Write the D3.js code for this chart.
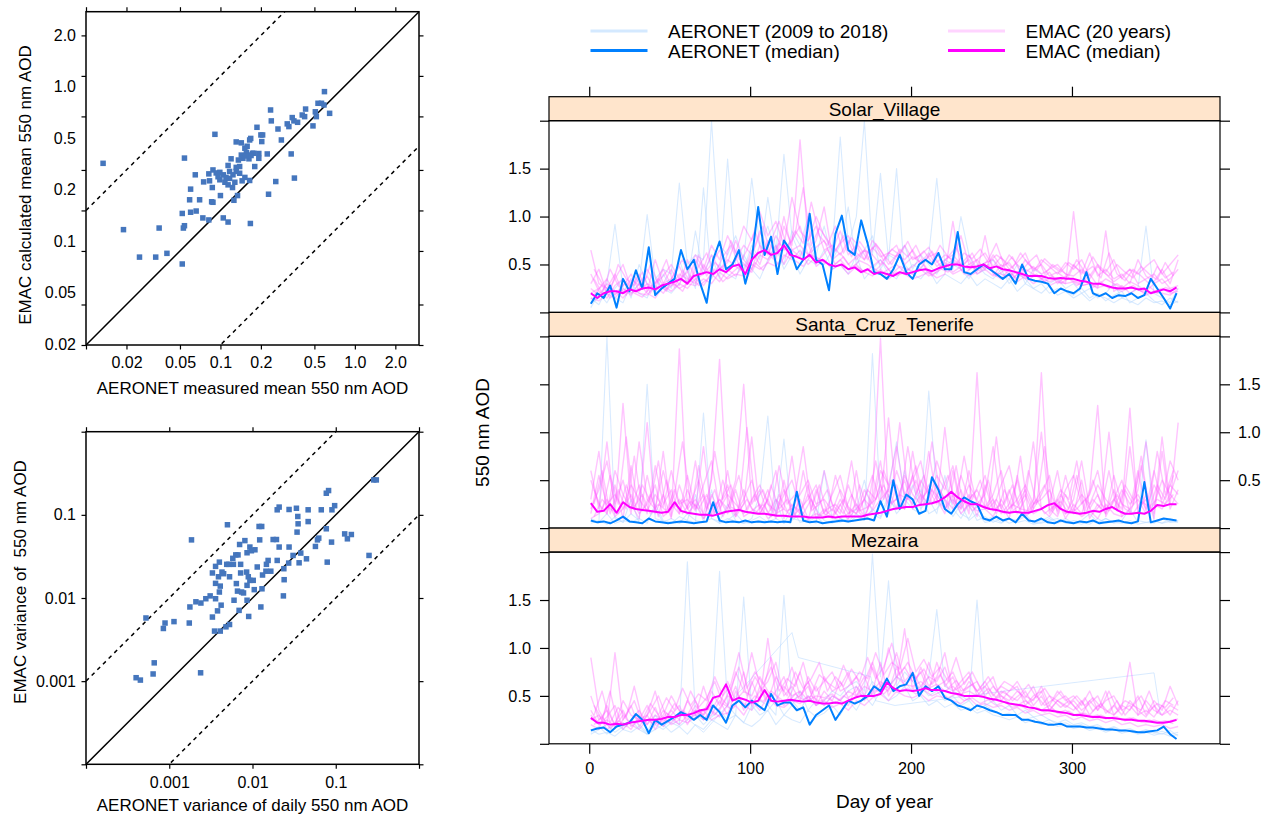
<!DOCTYPE html>
<html><head><meta charset="utf-8">
<script src="https://cdn.jsdelivr.net/npm/d3@7"></script>
<style>
body{margin:0;background:#fff}
svg text{font-family:"Liberation Sans",Arial,Helvetica,sans-serif;fill:#000}
</style></head>
<body><svg id="c" width="1262" height="815"></svg>
<script>
// ---------- Scatter data ----------
const meanPoints = [[0.0134,0.224],[0.019,0.072],[0.025,0.045],[0.033,0.045],[0.035,0.074],[0.040,0.048],[0.052,0.040],[0.052,0.095],[0.053,0.074],[0.054,0.077],[0.054,0.245],[0.059,0.120],[0.060,0.144],[0.060,0.097],[0.066,0.099],[0.065,0.184],[0.070,0.120],[0.074,0.088],[0.075,0.163],[0.082,0.187],[0.082,0.085],[0.083,0.166],[0.087,0.148],[0.086,0.116],[0.088,0.115],[0.091,0.368],[0.088,0.200],[0.093,0.190],[0.096,0.178],[0.099,0.169],[0.100,0.129],[0.105,0.184],[0.108,0.162],[0.105,0.088],[0.114,0.082],[0.114,0.216],[0.117,0.195],[0.120,0.242],[0.124,0.184],[0.114,0.155],[0.128,0.162],[0.131,0.209],[0.131,0.323],[0.134,0.129],[0.126,0.119],[0.139,0.189],[0.143,0.318],[0.143,0.258],[0.147,0.244],[0.152,0.290],[0.156,0.270],[0.160,0.258],[0.165,0.334],[0.168,0.343],[0.173,0.266],[0.145,0.166],[0.152,0.176],[0.165,0.167],[0.163,0.242],[0.180,0.212],[0.177,0.266],[0.187,0.415],[0.193,0.265],[0.193,0.244],[0.200,0.364],[0.206,0.364],[0.203,0.325],[0.223,0.263],[0.236,0.558],[0.239,0.463],[0.258,0.164],[0.228,0.132],[0.268,0.403],[0.284,0.334],[0.314,0.440],[0.323,0.420],[0.336,0.263],[0.342,0.490],[0.352,0.463],[0.375,0.452],[0.355,0.174],[0.406,0.512],[0.423,0.498],[0.430,0.567],[0.488,0.425],[0.508,0.541],[0.517,0.498],[0.532,0.626],[0.565,0.626],[0.589,0.608],[0.594,0.764],[0.649,0.527],[0.167,0.080],[0.136,0.237],[0.139,0.212],[0.154,0.254],[0.169,0.256],[0.099,0.192],[0.117,0.173],[0.131,0.195],[0.110,0.176],[0.158,0.300],[0.123,0.148]];

const varPoints = [[0.0004,0.0011],[0.00045,0.00103],[0.000525,0.00575],[0.00064,0.00122],[0.00066,0.00166],[0.00085,0.0043],[0.00089,0.0050],[0.00114,0.0052],[0.00174,0.0050],[0.00177,0.0078],[0.00185,0.050],[0.00209,0.0090],[0.0024,0.0087],[0.00238,0.00126],[0.00275,0.0098],[0.0031,0.0106],[0.0033,0.0059],[0.0033,0.020],[0.0035,0.0040],[0.0036,0.0098],[0.0038,0.0070],[0.0036,0.024],[0.0040,0.027],[0.0039,0.018],[0.0041,0.0040],[0.0042,0.0082],[0.0040,0.0118],[0.0041,0.0139],[0.0045,0.0196],[0.0048,0.0045],[0.0050,0.076],[0.0053,0.018],[0.0049,0.0254],[0.0052,0.0254],[0.0059,0.0254],[0.0058,0.030],[0.0063,0.033],[0.0067,0.033],[0.0070,0.044],[0.0081,0.049],[0.0093,0.041],[0.0097,0.037],[0.0107,0.038],[0.0086,0.035],[0.0072,0.0254],[0.0072,0.020],[0.0064,0.0149],[0.0066,0.0121],[0.0078,0.0115],[0.0085,0.0205],[0.0089,0.018],[0.0093,0.0163],[0.0086,0.0142],[0.0102,0.0163],[0.0105,0.0126],[0.0114,0.0236],[0.0122,0.050],[0.0120,0.0725],[0.0129,0.0725],[0.0132,0.0189],[0.0130,0.0129],[0.0145,0.021],[0.0154,0.0283],[0.0147,0.0254],[0.0166,0.021],[0.0177,0.0505],[0.0194,0.0505],[0.0198,0.0283],[0.0209,0.041],[0.0198,0.115],[0.0209,0.124],[0.0238,0.0225],[0.0240,0.0166],[0.0235,0.0106],[0.0275,0.116],[0.0275,0.041],[0.0272,0.0263],[0.0307,0.0325],[0.0337,0.120],[0.0350,0.0956],[0.0353,0.078],[0.0343,0.062],[0.0380,0.0347],[0.0363,0.0265],[0.0445,0.0296],[0.0466,0.115],[0.0466,0.083],[0.0570,0.0417],[0.0603,0.050],[0.0625,0.0525],[0.067,0.115],[0.077,0.068],[0.079,0.027],[0.077,0.182],[0.082,0.196],[0.090,0.115],[0.097,0.129],[0.089,0.047],[0.128,0.059],[0.138,0.0515],[0.154,0.058],[0.251,0.0325],[0.286,0.263],[0.307,0.263],[0.0126,0.0078],[0.0090,0.0060],[0.0069,0.0071],[0.0060,0.0094],[0.0053,0.0048],[0.0086,0.0094],[0.0074,0.0118],[0.0036,0.0150],[0.0043,0.0205]];

const meanXTicks = [0.01,0.02,0.05,0.1,0.2,0.5,1,2];
const meanXLabels = ["","0.02","0.05","0.1","0.2","0.5","1.0","2.0"];
const meanYTicks = [0.01,0.02,0.05,0.1,0.2,0.5,1,2];
const meanYLabels = ["2.0","1.0","0.5","0.2","0.1","0.05","0.02"]; // as printed, evenly spaced
const varTicks = [0.0001,0.001,0.01,0.1,1];
const varLabels = ["","0.001","0.01","0.1",""];

// ---------- Time series data ----------
const sites = ["Solar_Village","Santa_Cruz_Tenerife","Mezaira"];
const dayTicks = [0,100,200,300];
const aodTicks = [0,0.5,1,1.5,2];
const medianDays = d3.range(1, 366, 4);   // every 4th day
const yearDays = d3.range(1, 367, 5);     // every 5th day
const yearDaysB = d3.range(3, 364, 5);    // every 5th day, offset

const solarAeronetMedian = [0.09,0.20,0.15,0.28,0.05,0.35,0.22,0.44,0.25,0.68, 0.18,0.25,0.30,0.35,0.65,0.45,0.55,0.30,0.10,0.55, 0.74,0.45,0.50,0.65,0.30,0.55,1.10,0.60,0.79,0.40, 0.75,0.65,0.45,0.55,1.03,0.55,0.50,0.23,0.82,1.01, 0.65,0.60,0.96,0.72,0.42,0.40,0.35,0.45,0.60,0.42, 0.35,0.50,0.55,0.50,0.62,0.45,0.45,0.84,0.42,0.40, 0.45,0.50,0.45,0.40,0.35,0.40,0.30,0.50,0.35,0.33, 0.32,0.30,0.20,0.25,0.22,0.20,0.25,0.42,0.20,0.17, 0.20,0.15,0.18,0.17,0.20,0.15,0.18,0.35,0.25,0.15, 0.04,0.20];
const solarEmacMedian = [0.20,0.15,0.20,0.22,0.22,0.20,0.24,0.22,0.25,0.26, 0.24,0.28,0.30,0.32,0.35,0.30,0.38,0.40,0.42,0.40, 0.45,0.42,0.48,0.50,0.40,0.55,0.62,0.65,0.60,0.62, 0.70,0.60,0.58,0.55,0.60,0.52,0.55,0.50,0.48,0.50, 0.45,0.47,0.42,0.45,0.40,0.42,0.40,0.38,0.42,0.40, 0.42,0.44,0.45,0.43,0.46,0.48,0.50,0.50,0.48,0.47, 0.48,0.50,0.46,0.48,0.45,0.44,0.42,0.40,0.38,0.38, 0.38,0.36,0.35,0.36,0.35,0.35,0.33,0.32,0.30,0.30, 0.28,0.26,0.25,0.25,0.26,0.24,0.25,0.20,0.22,0.24, 0.22,0.26];
const tenerifeAeronetMedian = [0.08,0.06,0.07,0.05,0.08,0.12,0.07,0.06,0.05,0.10, 0.07,0.06,0.05,0.06,0.07,0.06,0.05,0.06,0.07,0.27, 0.08,0.06,0.07,0.06,0.08,0.06,0.07,0.06,0.07,0.06, 0.07,0.06,0.38,0.08,0.06,0.07,0.05,0.06,0.07,0.08, 0.07,0.08,0.09,0.10,0.08,0.28,0.12,0.50,0.20,0.35, 0.30,0.15,0.18,0.53,0.40,0.20,0.15,0.25,0.32,0.28, 0.25,0.10,0.08,0.12,0.08,0.10,0.06,0.15,0.08,0.07, 0.10,0.06,0.05,0.08,0.06,0.05,0.07,0.06,0.08,0.05, 0.06,0.07,0.08,0.06,0.05,0.07,0.48,0.06,0.08,0.10, 0.09,0.08];
const tenerifeEmacMedian = [0.26,0.17,0.18,0.25,0.16,0.27,0.22,0.20,0.19,0.18, 0.17,0.16,0.17,0.27,0.18,0.16,0.15,0.14,0.14,0.13, 0.15,0.17,0.18,0.19,0.17,0.16,0.15,0.15,0.14,0.13, 0.13,0.12,0.12,0.12,0.11,0.11,0.11,0.12,0.11,0.12, 0.12,0.12,0.12,0.14,0.15,0.16,0.18,0.20,0.21,0.22, 0.22,0.24,0.25,0.26,0.28,0.32,0.38,0.32,0.28,0.25, 0.25,0.22,0.20,0.19,0.17,0.16,0.17,0.16,0.16,0.18, 0.20,0.24,0.26,0.20,0.17,0.16,0.15,0.16,0.18,0.17, 0.20,0.22,0.18,0.15,0.15,0.16,0.15,0.18,0.24,0.23, 0.25,0.25];
const mezairaAeronetMedian = [0.14,0.16,0.17,0.12,0.18,0.20,0.22,0.31,0.25,0.11, 0.25,0.20,0.24,0.28,0.33,0.30,0.25,0.30,0.25,0.40, 0.33,0.22,0.40,0.45,0.38,0.45,0.40,0.35,0.52,0.40, 0.43,0.43,0.35,0.38,0.20,0.30,0.35,0.40,0.25,0.35, 0.45,0.42,0.45,0.50,0.60,0.55,0.68,0.55,0.60,0.62, 0.74,0.50,0.60,0.55,0.60,0.48,0.45,0.40,0.38,0.35, 0.40,0.38,0.35,0.33,0.30,0.30,0.30,0.25,0.25,0.23, 0.22,0.20,0.20,0.21,0.18,0.18,0.18,0.17,0.17,0.16, 0.15,0.15,0.14,0.14,0.13,0.12,0.12,0.13,0.14,0.18, 0.10,0.05];
const mezairaEmacMedian = [0.27,0.22,0.22,0.20,0.21,0.20,0.22,0.23,0.24,0.25, 0.25,0.26,0.28,0.28,0.30,0.30,0.32,0.35,0.36,0.48, 0.50,0.62,0.45,0.48,0.46,0.43,0.45,0.56,0.45,0.44, 0.45,0.46,0.45,0.44,0.45,0.43,0.42,0.42,0.43,0.42, 0.45,0.48,0.50,0.50,0.50,0.52,0.64,0.58,0.55,0.56, 0.55,0.56,0.58,0.56,0.56,0.55,0.53,0.52,0.50,0.50, 0.50,0.49,0.47,0.46,0.44,0.42,0.41,0.40,0.38,0.37, 0.35,0.35,0.34,0.33,0.32,0.30,0.30,0.29,0.28,0.28, 0.27,0.27,0.26,0.25,0.25,0.24,0.24,0.23,0.22,0.22, 0.23,0.25];

const solarEmacYears = [
[0.65,0.30,0.25,0.40,0.20,0.35,0.28,0.45,0.30,0.38, 0.50,0.35,0.42,0.60,0.45,0.70,0.55,0.80,0.62,0.90, 0.75,1.05,0.80,0.95,0.70,1.20,0.85,0.75,0.90,0.65, 0.70,0.60,0.75,0.55,0.65,0.60,0.50,0.62,0.58,0.70, 0.55,0.60,0.68,0.52,0.60,0.55,0.80,0.50,0.55,0.45, 0.60,0.48,0.52,0.40,0.55,0.45,0.50,0.38,0.42,0.35, 0.50,0.40,0.62,0.38,0.45,0.35,0.40,0.30,0.55,0.38, 0.32,0.45,0.30,0.55],
[0.15,0.12,0.20,0.15,0.25,0.18,0.30,0.20,0.15,0.28, 0.22,0.30,0.25,0.35,0.28,0.40,0.32,0.45,0.38,0.50, 0.42,0.60,0.55,0.70,0.50,0.65,0.58,0.72,0.48,0.55, 0.45,0.50,0.40,0.48,0.42,0.38,0.45,0.35,0.42,0.40, 0.35,0.38,0.42,0.36,0.40,0.95,0.45,0.38,0.42,0.80, 0.40,0.35,0.45,0.32,0.38,0.30,0.35,0.28,0.32,0.30, 1.05,0.28,0.30,0.25,0.85,0.22,0.28,0.20,0.25,0.18, 0.22,0.20,0.18,0.25],
[0.30,0.45,0.20,0.35,0.50,0.25,0.40,0.22,0.55,0.30, 0.35,0.48,0.30,0.55,0.40,0.50,0.65,0.45,0.55,0.70, 0.60,0.85,0.65,0.55,0.90,0.70,1.80,0.75,1.00,0.80, 0.65,0.85,0.60,0.70,0.55,0.75,0.65,0.50,0.60,0.55, 0.65,0.50,0.58,0.62,0.48,0.55,0.50,0.60,0.45,0.52, 0.55,0.45,0.60,0.50,0.42,0.48,0.40,0.45,0.50,0.40, 0.38,0.45,0.35,0.48,0.40,0.32,0.38,0.45,0.30,0.35, 0.40,0.30,0.35,0.45],
[0.20,0.25,0.35,0.18,0.28,0.40,0.22,0.30,0.25,0.45, 0.28,0.40,0.35,0.30,0.50,0.38,0.45,0.55,0.48,0.42, 0.65,0.50,0.75,0.60,1.00,0.65,0.70,0.60,0.68,0.75, 0.55,0.62,0.50,0.58,0.65,0.48,0.55,0.45,0.50,0.42, 0.48,0.55,0.40,0.45,0.52,0.42,0.48,0.55,0.40,0.45, 0.38,0.50,0.42,0.35,0.45,0.40,0.35,0.42,0.30,0.38, 0.33,0.30,0.40,0.28,0.35,0.30,0.25,0.32,0.28,0.22, 0.30,0.35,0.25,0.28],
[0.25,0.18,0.30,0.22,0.15,0.25,0.20,0.18,0.28,0.20, 0.32,0.25,0.30,0.28,0.35,0.30,0.42,0.35,0.40,0.38, 0.50,0.45,0.52,0.48,0.60,0.55,0.65,0.50,0.58,0.52, 0.48,0.55,0.45,0.50,0.42,0.48,0.40,0.45,0.38,0.42, 0.40,0.45,0.38,0.42,0.48,0.40,0.44,0.50,0.45,0.48, 0.42,0.40,0.38,0.42,0.35,0.40,0.36,0.32,0.35,0.30, 0.32,0.28,0.30,0.26,0.28,0.25,0.22,0.26,0.24,0.20, 0.22,0.25,0.20,0.22],
[0.40,0.22,0.15,0.28,0.35,0.20,0.25,0.38,0.22,0.30, 0.45,0.28,0.55,0.35,0.40,0.60,0.45,0.52,0.75,0.55, 0.45,0.70,0.60,0.80,0.65,0.75,0.90,0.60,0.75,1.10, 0.60,0.72,0.80,0.62,0.55,0.68,0.58,0.62,0.70,0.50, 0.58,0.52,0.62,0.48,0.55,0.60,0.50,0.45,0.55,0.62, 0.48,0.58,0.45,0.52,0.62,0.42,0.55,0.48,0.40,0.52, 0.45,0.55,0.38,0.50,0.42,0.55,0.35,0.45,0.40,0.48, 0.55,0.40,0.50,0.60]];
const solarEmacYearsB = [
[0.35,0.20,0.45,0.28,0.18,0.38,0.25,0.50,0.30,0.22, 0.42,0.55,0.35,0.48,0.62,0.40,0.58,0.70,0.50,0.65, 0.85,0.60,0.75,0.95,0.68,0.85,0.72,1.15,0.80,0.70, 0.90,0.62,0.78,0.68,0.55,0.72,0.60,0.50,0.66,0.58, 0.70,0.52,0.64,0.48,0.58,0.68,0.50,0.62,0.45,0.55, 0.72,0.48,0.58,0.42,0.52,0.60,0.40,0.50,0.44,0.38, 0.55,0.42,0.48,0.36,0.62,0.40,0.33,0.45,0.38,0.30, 0.48,0.36,0.42],
[0.18,0.28,0.15,0.22,0.32,0.20,0.16,0.26,0.35,0.24, 0.30,0.22,0.38,0.28,0.34,0.45,0.32,0.40,0.48,0.36, 0.52,0.44,0.58,0.50,0.62,0.54,0.48,0.60,0.55,0.66, 0.50,0.58,0.46,0.54,0.50,0.44,0.52,0.40,0.48,0.45, 0.42,0.50,0.38,0.46,0.42,0.52,0.40,0.47,0.43,0.50, 0.38,0.44,0.36,0.42,0.34,0.40,0.32,0.38,0.30,0.36, 0.28,0.34,0.26,0.32,0.25,0.30,0.24,0.28,0.22,0.27, 0.20,0.26,0.23],
[0.45,0.30,0.22,0.50,0.35,0.28,0.42,0.20,0.36,0.55, 0.26,0.44,0.32,0.60,0.38,0.52,0.44,0.75,0.56,0.48, 0.68,0.90,0.58,0.72,0.64,0.82,1.30,0.70,0.88,0.76, 0.64,0.80,0.58,0.74,0.62,0.70,0.54,0.66,0.60,0.74, 0.56,0.64,0.52,0.70,0.58,0.50,0.62,0.56,0.66,0.52, 0.60,0.54,0.46,0.62,0.50,0.44,0.56,0.48,0.42,0.52, 0.46,0.40,0.58,0.44,0.38,0.50,0.42,0.36,0.48,0.40, 0.34,0.52,0.38]];
const solarAeronetYears = [
[0.10,0.15,0.30,0.92,0.25,0.20,0.30,1.02,0.35,0.45, 0.40,1.35,0.50,0.60,0.55,2.00,0.70,0.60,0.80,0.55, 1.40,0.70,0.90,0.60,1.65,0.80,0.60,0.75,0.55,0.50, 0.65,1.83,0.70,1.00,2.00,0.60,1.45,0.55,1.50,0.40, 0.50,0.45,0.60,1.40,0.50,0.45,1.00,0.60,0.40,0.45, 0.55,0.40,0.35,0.50,0.30,0.45,0.40,0.30,0.35,0.25, 0.30,0.20,0.25,0.15,0.20,0.30,0.15,0.20,0.25,0.90, 0.20,0.15,0.10,0.25],
[0.05,0.20,0.10,0.25,0.35,0.15,0.50,0.30,0.20,0.40, 0.25,0.55,0.30,0.85,0.40,0.60,0.35,1.60,0.50,0.45, 0.70,0.55,1.20,0.65,0.50,0.85,0.70,1.00,0.60,0.90, 0.55,0.70,1.10,0.50,0.65,0.80,0.45,0.60,0.55,0.70, 0.45,0.60,0.50,0.40,0.55,0.50,0.45,0.35,0.50,0.40, 0.35,0.45,0.30,0.40,0.35,0.25,0.30,0.20,0.25,0.22, 0.18,0.25,0.15,0.20,0.12,0.18,0.22,0.10,0.15,0.20, 0.12,0.08,0.15,0.10],
[0.15,0.08,0.25,0.15,0.10,0.30,0.20,0.15,0.35,0.25, 0.20,0.30,0.45,0.25,1.30,0.35,0.50,0.40,0.35,0.60, 0.45,0.35,0.55,0.70,0.45,0.60,0.40,0.55,0.50,0.65, 0.45,0.50,0.40,0.60,0.35,0.45,0.55,0.40,0.35,0.50, 0.40,0.35,0.45,0.30,0.40,0.35,0.30,0.40,0.28,0.35, 0.30,0.25,0.35,0.22,0.30,0.25,0.20,0.28,0.18,0.22, 0.15,0.20,0.12,0.18,0.15,0.10,0.15,0.12,0.08,0.15, 0.10,0.12,0.08,0.12]];

const tenerifeEmacYears = [
[0.60,0.20,0.90,0.15,1.30,0.25,0.10,0.55,0.18,0.80, 0.12,0.45,0.20,0.70,0.10,0.35,0.15,0.60,0.12,0.25, 0.95,0.15,0.30,0.10,0.50,0.12,0.20,0.08,0.40,0.15, 0.10,0.25,0.08,0.60,0.12,0.30,0.70,0.15,0.45,0.20, 0.55,0.25,0.80,0.30,0.15,0.60,0.20,0.35,0.12,0.45, 0.18,0.25,0.10,0.55,0.15,0.30,1.00,0.20,0.12,0.35, 0.15,0.50,0.10,0.25,0.15,0.40,0.12,0.85,0.20,0.30, 0.15,0.95,0.25,1.10],
[0.30,0.80,0.15,0.45,0.10,0.65,0.20,1.10,0.15,0.35, 0.10,1.87,0.20,0.30,0.15,0.50,1.76,0.25,0.12,0.40, 0.20,0.15,0.30,0.60,0.10,0.25,0.15,0.45,0.10,0.20, 0.12,0.30,0.15,0.20,0.10,0.35,1.98,0.25,0.30,0.50, 0.20,0.35,0.25,0.45,0.30,0.20,0.40,0.15,1.62,0.20, 0.30,0.15,0.25,0.50,0.12,0.20,1.62,0.15,0.30,0.10, 0.25,0.15,0.40,1.28,0.12,0.30,0.20,1.25,0.15,0.35, 0.10,0.80,0.20,0.40],
[0.20,0.40,0.70,0.25,0.50,0.15,0.90,0.30,0.20,0.60, 0.25,0.15,0.40,0.20,0.85,0.15,0.30,0.20,0.50,1.50, 0.25,0.40,0.15,0.30,0.20,0.75,0.15,0.35,0.20,0.60, 0.25,0.15,0.45,0.20,0.30,0.55,0.25,1.15,0.30,0.20, 0.80,0.30,0.40,0.25,1.05,0.30,0.20,0.60,0.25,0.35, 0.85,0.20,0.40,0.15,0.30,0.90,0.20,0.25,0.60,0.15, 0.30,0.70,0.20,0.35,0.15,0.55,0.25,0.20,0.60,0.18, 0.45,0.30,0.70,0.50],
[0.10,0.15,0.30,0.12,0.20,0.35,0.15,0.25,0.45,0.12, 0.20,0.30,0.15,0.25,0.10,0.20,0.30,0.15,0.40,0.12, 0.18,0.25,0.10,0.15,0.20,0.12,0.30,0.10,0.15,0.12, 0.20,0.10,0.15,0.25,0.12,0.18,0.30,0.40,0.20,0.55, 0.35,0.25,0.45,0.30,0.20,0.35,0.15,0.25,0.18,0.20, 0.12,0.30,0.15,0.22,0.35,0.15,0.20,0.12,0.25,0.15, 0.20,0.12,0.18,0.10,0.25,0.15,0.12,0.20,0.30,0.15, 0.25,0.20,0.35,0.25],
[0.50,0.25,0.15,0.60,0.35,0.20,0.45,0.15,0.65,0.25, 0.40,0.15,0.55,0.20,0.35,0.12,0.25,0.45,0.15,0.30, 0.50,0.20,0.40,0.15,0.35,0.50,0.20,0.30,0.45,0.15, 0.35,0.55,0.20,0.15,0.40,0.25,0.60,0.45,0.85,0.35, 0.50,0.70,0.30,0.55,0.40,0.65,0.25,0.45,0.30,0.55, 0.20,0.45,0.65,0.25,0.40,0.20,0.35,0.55,0.15,0.40, 0.55,0.25,0.35,0.60,0.20,0.30,0.50,0.15,0.40,0.90, 0.25,0.50,0.35,0.60],
[0.15,0.55,0.25,0.35,0.20,0.45,0.30,0.18,0.35,0.22, 0.60,0.25,0.30,0.18,0.45,0.70,0.20,0.35,0.25,0.15, 0.30,0.45,0.25,0.18,0.40,0.22,0.35,0.50,0.25,0.30, 0.18,0.40,0.22,0.15,0.30,0.20,0.45,0.25,0.60,0.35, 0.25,0.50,0.35,0.70,0.45,0.25,0.55,0.30,0.40,0.22, 0.35,0.60,0.20,0.30,0.45,0.25,0.30,0.40,0.18,0.55, 0.20,0.35,0.25,0.45,0.30,0.20,0.40,0.25,0.35,0.20, 0.60,0.25,0.45,0.35]];
const tenerifeEmacYearsB = [
[0.25,0.60,0.15,0.40,0.20,0.75,0.18,0.35,0.12,0.50, 0.22,0.30,0.15,0.65,0.20,0.40,0.12,0.28,0.55,0.18, 0.35,0.15,0.45,0.20,0.30,0.12,0.60,0.18,0.25,0.40, 0.15,0.30,0.12,0.45,0.20,0.70,0.30,0.50,0.25,0.85, 0.35,0.55,0.25,0.40,0.20,0.65,0.18,0.35,0.25,0.50, 0.15,0.40,0.20,0.75,0.15,0.30,0.45,0.18,0.35,0.20, 0.55,0.15,0.30,0.20,0.60,0.18,0.40,0.25,0.75,0.20, 0.45,0.30,0.55],
[0.12,0.30,0.20,0.15,0.45,0.22,0.35,0.15,0.25,0.18, 0.40,0.15,0.28,0.20,0.35,0.15,0.50,0.22,0.18,0.30, 0.15,0.25,0.12,0.35,0.18,0.22,0.15,0.30,0.12,0.20, 0.25,0.15,0.35,0.18,0.22,0.30,0.45,0.25,0.35,0.30, 0.50,0.25,0.40,0.30,0.35,0.22,0.30,0.18,0.25,0.20, 0.30,0.15,0.25,0.20,0.18,0.30,0.15,0.22,0.28,0.15, 0.20,0.30,0.15,0.25,0.18,0.35,0.20,0.15,0.28,0.22, 0.30,0.25,0.35],
[0.40,0.18,0.55,0.25,0.95,0.20,0.45,0.28,0.70,0.15, 0.35,0.90,0.25,0.50,0.18,0.80,0.30,0.45,0.20,1.05, 0.28,0.40,0.18,0.65,0.25,0.35,0.85,0.20,0.45,0.15, 0.55,0.25,0.70,0.18,0.40,0.30,0.60,0.35,1.10,0.40, 0.65,0.30,0.90,0.35,0.55,0.25,0.75,0.30,0.50,0.20, 0.95,0.25,0.45,0.18,0.60,0.25,0.85,0.20,0.40,0.30, 0.70,0.18,0.50,0.25,1.00,0.20,0.45,0.30,0.65,0.25, 0.80,0.35,0.60]];
const tenerifeAeronetYears = [
[0.08,0.05,2.00,0.10,0.06,0.15,0.08,1.50,0.10,0.07, 0.05,0.12,0.08,0.06,1.20,0.10,0.07,0.25,0.08,0.05, 0.10,0.35,1.17,0.12,0.93,0.08,0.15,0.06,0.20,0.08, 0.05,0.10,0.07,0.15,0.08,1.82,0.25,0.40,0.90,0.30, 0.20,0.15,1.43,0.35,0.20,0.30,0.15,0.10,0.25,0.08, 0.12,0.06,0.10,0.08,0.15,0.05,0.08,0.12,0.06,0.10, 0.05,0.08,0.15,0.06,0.10,0.05,0.08,0.20,0.06,0.92, 0.08,0.05,0.10,0.07],
[0.05,0.08,0.04,0.12,0.06,0.30,0.05,0.08,0.20,0.06, 0.10,0.05,0.15,0.08,0.06,0.40,0.05,0.10,0.07,0.05, 0.08,0.12,0.06,0.30,0.05,0.10,0.08,0.06,0.12,0.05, 0.08,0.06,0.10,0.20,0.50,0.15,0.10,0.30,0.20,0.60, 0.25,0.40,0.15,0.20,0.30,0.12,0.25,0.08,0.15,0.06, 0.08,0.05,0.10,0.06,0.08,0.04,0.06,0.10,0.05,0.08, 0.06,0.04,0.08,0.05,0.10,0.06,0.05,0.08,0.04,0.06, 0.08,0.05,0.07,0.06],
[0.10,0.06,0.15,0.05,0.08,0.06,0.10,0.05,0.25,0.08, 0.06,0.05,0.08,0.35,0.06,0.10,0.05,0.08,0.15,0.06, 0.05,0.08,0.06,0.10,0.05,0.20,0.06,0.08,0.05,0.60, 0.10,0.08,0.06,0.12,0.08,0.20,0.12,0.35,0.15,0.25, 0.45,0.20,0.30,0.15,0.55,0.20,0.10,0.25,0.08,0.12, 0.06,0.10,0.05,0.08,0.12,0.06,0.05,0.08,0.10,0.05, 0.08,0.06,0.04,0.10,0.05,0.07,0.06,0.05,0.08,0.06, 0.05,0.10,0.06,0.08]];

const mezairaEmacYears = [
[0.90,0.35,0.20,0.95,0.25,0.40,0.18,0.30,0.55,0.22, 0.35,0.25,0.45,0.30,0.60,0.35,0.50,0.40,0.75,0.55, 0.95,0.60,0.45,0.70,0.55,0.80,0.50,0.65,0.45,0.70, 0.55,0.60,0.75,0.50,0.65,0.85,0.60,1.00,0.70,0.80, 0.65,0.75,0.55,0.85,0.60,0.70,0.50,0.65,0.55,0.60, 0.45,0.55,0.50,0.45,0.55,0.40,0.50,0.35,0.45,0.40, 0.35,0.45,0.30,0.40,0.35,0.30,0.38,0.85,0.30,0.35, 0.28,0.40,0.30,0.45],
[0.30,0.20,0.25,0.18,0.22,0.15,0.28,0.20,0.30,0.25, 0.22,0.32,0.28,0.35,0.30,0.40,0.35,0.50,0.45,0.55, 0.50,0.70,0.55,0.45,0.60,0.50,0.55,0.45,0.50,0.48, 0.52,0.45,0.55,0.50,0.60,0.55,0.65,0.58,0.70,0.62, 0.60,0.65,0.58,0.62,0.55,0.60,0.52,0.55,0.50,0.48, 0.45,0.50,0.42,0.40,0.45,0.38,0.35,0.40,0.32,0.35, 0.30,0.32,0.28,0.30,0.26,0.28,0.25,0.27,0.24,0.22, 0.25,0.22,0.24,0.26],
[0.20,0.15,0.40,0.18,0.30,0.20,0.15,0.25,0.20,0.35, 0.28,0.20,0.30,0.45,0.25,0.35,0.28,0.40,0.60,0.35, 0.65,0.45,1.10,0.50,0.40,0.55,0.75,0.45,0.60,0.40, 0.50,0.45,0.40,0.60,0.45,0.55,0.85,0.50,0.65,1.20, 0.55,0.80,0.60,0.70,0.95,0.55,0.65,0.75,0.50,0.60, 0.70,0.45,0.55,0.60,0.40,0.50,0.55,0.35,0.45,0.50, 0.40,0.30,0.45,0.35,0.55,0.30,0.40,0.35,0.50,0.30, 0.45,0.35,0.60,0.40],
[0.25,0.30,0.15,0.22,0.35,0.18,0.25,0.30,0.15,0.28, 0.20,0.25,0.22,0.28,0.35,0.25,0.30,0.32,0.40,0.30, 0.45,0.35,0.50,0.40,0.38,0.45,0.42,0.50,0.40,0.45, 0.38,0.42,0.35,0.45,0.40,0.48,0.52,0.45,0.55,0.50, 0.48,0.52,0.45,0.50,0.48,0.45,0.42,0.48,0.40,0.42, 0.38,0.40,0.35,0.38,0.32,0.35,0.30,0.32,0.28,0.30, 0.25,0.28,0.24,0.26,0.22,0.25,0.20,0.22,0.18,0.20, 0.18,0.20,0.16,0.18],
[0.50,0.25,0.35,0.20,0.45,0.30,0.25,0.40,0.22,0.30, 0.50,0.35,0.25,0.40,0.30,0.55,0.40,0.65,0.45,0.75, 0.40,0.55,0.65,0.85,0.50,0.60,0.45,0.70,0.55,0.65, 0.75,0.55,0.60,0.70,0.50,0.80,0.60,0.70,0.95,0.65, 0.75,0.60,0.70,0.65,0.80,0.55,0.60,0.70,0.55,0.65, 0.50,0.60,0.55,0.65,0.50,0.45,0.60,0.40,0.55,0.45, 0.50,0.40,0.55,0.35,0.45,0.50,0.35,0.40,0.30,0.45, 0.35,0.30,0.40,0.35],
[0.35,0.20,0.28,0.40,0.15,0.25,0.35,0.20,0.38,0.18, 0.30,0.40,0.20,0.35,0.25,0.30,0.45,0.30,0.55,0.40, 0.35,0.60,0.40,0.55,0.70,0.45,0.50,0.60,0.40,0.55, 0.45,0.65,0.48,0.55,0.70,0.50,0.60,0.55,0.80,0.60, 0.70,0.55,0.85,0.60,0.65,0.75,0.55,0.60,0.65,0.50, 0.60,0.50,0.45,0.55,0.48,0.60,0.40,0.50,0.45,0.38, 0.45,0.35,0.42,0.50,0.32,0.40,0.30,0.45,0.35,0.28, 0.40,0.30,0.35,0.30]];
const mezairaEmacYearsB = [
[0.40,0.25,0.55,0.18,0.30,0.45,0.22,0.35,0.50,0.28, 0.42,0.30,0.55,0.38,0.48,0.65,0.42,0.58,0.80,0.50, 0.70,0.55,0.90,0.62,0.50,0.75,0.58,0.68,0.85,0.55, 0.70,0.60,0.78,0.65,0.90,0.68,0.80,1.05,0.72,0.85, 0.68,0.78,0.62,0.72,0.58,0.66,0.55,0.62,0.50,0.58, 0.48,0.55,0.45,0.52,0.42,0.50,0.40,0.46,0.38,0.45, 0.36,0.48,0.34,0.42,0.32,0.45,0.30,0.40,0.35,0.55, 0.32,0.45,0.40],
[0.20,0.28,0.16,0.24,0.18,0.30,0.22,0.26,0.20,0.32, 0.25,0.35,0.28,0.32,0.38,0.30,0.42,0.36,0.45,0.40, 0.50,0.44,0.55,0.48,0.42,0.52,0.46,0.50,0.44,0.48, 0.42,0.50,0.45,0.52,0.48,0.56,0.52,0.60,0.55,0.58, 0.52,0.56,0.50,0.54,0.48,0.52,0.45,0.48,0.42,0.46, 0.40,0.44,0.38,0.40,0.35,0.38,0.33,0.36,0.31,0.34, 0.29,0.32,0.27,0.30,0.26,0.28,0.24,0.27,0.23,0.25, 0.22,0.24,0.21],
[0.30,0.55,0.22,0.38,0.28,0.60,0.25,0.42,0.30,0.48, 0.35,0.58,0.40,0.52,0.45,0.70,0.50,0.62,0.95,0.58, 0.75,0.62,0.80,0.55,0.68,0.60,0.85,0.52,0.72,0.64, 0.58,0.82,0.62,0.75,0.68,0.95,0.72,0.85,0.78,1.10, 0.75,0.88,0.70,0.80,0.65,0.90,0.62,0.75,0.58,0.70, 0.55,0.65,0.60,0.52,0.62,0.48,0.58,0.45,0.55,0.42, 0.50,0.40,0.48,0.38,0.55,0.36,0.45,0.40,0.50,0.34, 0.42,0.38,0.48]];
const mezairaAeronetYears = [
[0.12,0.18,0.10,0.22,0.15,0.25,0.20,0.12,0.30,0.18, 0.25,0.20,1.90,0.30,0.25,0.35,1.80,0.40,0.30,1.53, 0.35,0.45,0.40,0.30,1.55,0.45,0.35,0.50,0.40,0.45, 0.55,0.50,0.60,0.65,0.55,1.98,0.70,1.70,0.60,0.75, 0.65,0.55,0.70,1.40,0.60,0.55,0.50,0.45,1.50,0.40, 0.45,0.35,0.40,0.30,0.35,0.28,0.30,0.25,0.22,0.25, 0.20,0.22,0.18,0.20,0.15,0.18,0.14,0.16,0.12,0.15, 0.12,0.10,0.14,0.08],
[0.10,0.15,0.20,0.12,0.18,0.25,0.15,0.10,0.20,0.15, 0.22,0.18,0.25,0.30,0.20,0.28,0.35,0.25,0.30,0.22, 0.40,0.30,0.35,0.45,0.30,0.40,0.55,0.35,0.45,0.40, 0.50,0.45,0.55,0.60,0.50,0.65,0.55,0.60,0.70,0.65, 0.55,0.60,0.50,0.55,0.45,0.50,0.40,0.45,0.35,0.40, 0.35,0.30,0.32,0.28,0.25,0.28,0.22,0.25,0.20,0.22, 0.18,0.20,0.16,0.18,0.15,0.17,0.13,0.15,0.12,0.14, 0.11,0.13,0.10,0.12],
[0.15,0.10,0.12,0.08,0.15,0.12,0.18,0.10,0.15,0.20, 0.12,0.18,0.10,0.20,0.15,0.25,0.20,0.15,0.30,0.22, 0.18,0.25,0.35,0.20,0.30,0.25,0.22,0.35,0.28,0.32, 0.40,0.30,0.45,0.35,0.50,0.40,0.55,0.45,0.50,0.60, 0.45,0.50,0.40,0.45,0.38,0.42,0.35,0.38,0.32,0.35, 0.30,0.28,0.25,0.28,0.22,0.25,0.20,0.22,0.18,0.20, 0.16,0.18,0.14,0.16,0.12,0.15,0.11,0.13,0.10,0.12, 0.09,0.11,0.08,0.10]];
// one Mezaira AERONET year with long data gaps (sparse days joined by straight lines)
const mezairaGapDays = [62,71,126,130,175,178,190,258,351,355];
const mezairaGapValues = [0.25,0.12,1.16,0.90,0.70,0.45,0.40,0.55,0.74,0.30];

// ---------- Drawing ----------
const svg = d3.select("#c");
const BLK = "#000";

function drawScatter(cfg){
  const g = svg.append("g");
  const x = d3.scaleLog().domain(cfg.domain).range([cfg.l, cfg.r]);
  const y = d3.scaleLog().domain(cfg.domain).range([cfg.b, cfg.t]);
  const clipId = "clip" + cfg.id;
  g.append("clipPath").attr("id", clipId).append("rect")
    .attr("x", cfg.l).attr("y", cfg.t).attr("width", cfg.r - cfg.l).attr("height", cfg.b - cfg.t);
  const pg = g.append("g").attr("clip-path", `url(#${clipId})`);
  const d0 = cfg.domain[0], d1 = cfg.domain[1];
  const lines = [[1,"none"],[10,"4,4"],[0.1,"4,4"]];
  lines.forEach(([k,dash]) => {
    pg.append("line").attr("x1", x(d0)).attr("y1", y(d0*k)).attr("x2", x(d1)).attr("y2", y(d1*k))
      .attr("stroke", BLK).attr("stroke-width", 1.5).attr("stroke-dasharray", dash);
  });
  pg.selectAll("rect.pt").data(cfg.points).join("rect").attr("class","pt")
    .attr("x", d => x(d[0]) - 2.75).attr("y", d => y(d[1]) - 2.75)
    .attr("width", 5.5).attr("height", 5.5).attr("fill", "#4576bd");
  const style = sel => { sel.select(".domain").remove(); sel.selectAll("line").attr("stroke", BLK).attr("stroke-width", 1.2); sel.selectAll("text").style("font-size","16px").attr("fill", BLK); };
  g.append("g").attr("transform", `translate(0,${cfg.b})`)
    .call(d3.axisBottom(x).tickValues(cfg.xTicks).tickSize(4.5).tickPadding(7.5).tickFormat((d,i)=>cfg.xLabels[i])).call(style);
  g.append("g").attr("transform", `translate(0,${cfg.t})`)
    .call(d3.axisTop(x).tickValues(cfg.xTicks).tickSize(4.5).tickFormat("")).call(style);
  g.append("g").attr("transform", `translate(${cfg.r},0)`)
    .call(d3.axisRight(y).tickValues(cfg.yTicks).tickSize(4.5).tickFormat("")).call(style);
  if (cfg.yLabelScale) {
    g.append("g").attr("transform", `translate(${cfg.l},0)`)
      .call(d3.axisLeft(y).tickValues(cfg.yTicks).tickSize(4.5).tickFormat("")).call(style);
    g.append("g").attr("transform", `translate(${cfg.l},0)`)
      .call(d3.axisLeft(cfg.yLabelScale).tickSize(0).tickPadding(10)).call(style);
  } else {
    g.append("g").attr("transform", `translate(${cfg.l},0)`)
      .call(d3.axisLeft(y).tickValues(cfg.yTicks).tickSize(4.5).tickPadding(5.5).tickFormat((d,i)=>cfg.yLabels[i])).call(style);
  }
  g.append("rect").attr("x", cfg.l).attr("y", cfg.t).attr("width", cfg.r-cfg.l).attr("height", cfg.b-cfg.t)
    .attr("fill","none").attr("stroke", BLK).attr("stroke-width", 1.5);
  g.append("text").attr("x", (cfg.l+cfg.r)/2).attr("y", cfg.xTitleY).attr("dy","0.35em")
    .attr("text-anchor","middle").style("font-size","17px").text(cfg.xTitle);
  g.append("text").attr("transform", `translate(${cfg.yTitleX},${cfg.yTitleY}) rotate(-90)`).attr("dy","0.35em")
    .attr("text-anchor","middle").style("font-size","17px").style("white-space","pre").text(cfg.yTitle);
}

drawScatter({id:1, domain:[0.01,3], l:86, r:419, t:11.7, b:345, points:meanPoints,
  xTicks:meanXTicks, xLabels:meanXLabels, yTicks:meanYTicks,
  yLabelScale: d3.scalePoint().domain(meanYLabels).range([35,344]),
  xTitle:"AERONET measured mean 550 nm AOD", xTitleY:388.5,
  yTitle:"EMAC calculated mean 550 nm AOD", yTitleX:25, yTitleY:185});

drawScatter({id:2, domain:[0.0001,1], l:86, r:419, t:431.7, b:764.3, points:varPoints,
  xTicks:varTicks, xLabels:varLabels, yTicks:varTicks, yLabels:varLabels,
  xTitle:"AERONET variance of daily 550 nm AOD", xTitleY:805,
  yTitle:"EMAC variance of  550 nm AOD", yTitleX:20, yTitleY:582});

// ---------- Lattice panels ----------
const PL = 549, PR = 1220, TOP = 96.7, STRIP = 24, PH = 191.7;
const x = d3.scaleLinear().domain([-25, 392]).range([PL, PR]);
const panels = [
  {site:sites[0], aMed:solarAeronetMedian, eMed:solarEmacMedian, aYears:solarAeronetYears, eYears:solarEmacYears, eYearsB:solarEmacYearsB},
  {site:sites[1], aMed:tenerifeAeronetMedian, eMed:tenerifeEmacMedian, aYears:tenerifeAeronetYears, eYears:tenerifeEmacYears, eYearsB:tenerifeEmacYearsB},
  {site:sites[2], aMed:mezairaAeronetMedian, eMed:mezairaEmacMedian, aYears:mezairaAeronetYears, eYears:mezairaEmacYears, eYearsB:mezairaEmacYearsB,
   gap:{days:mezairaGapDays, values:mezairaGapValues}}
];
const fmt = d => (d > 0 && d < 2) ? d.toFixed(1) : "";
const axStyle = (sel, fs) => { sel.select(".domain").remove(); sel.selectAll("line").attr("stroke", BLK).attr("stroke-width", 1.2); sel.selectAll("text").style("font-size", fs).attr("fill", BLK); };
const AERO_YEAR = {c:"#b8d9ff", o:0.55, w:1.1};
const EMAC_YEAR = {c:"#ff5cff", o:0.36, w:1.4};

panels.forEach((p, i) => {
  const st = TOP + i*(STRIP+PH);
  const pt = st + STRIP, pb = pt + PH;
  const y = d3.scaleLinear().domain([0, 2]).range([pb, pt]);
  const g = svg.append("g");
  g.append("clipPath").attr("id", "pc"+i).append("rect").attr("x", PL).attr("y", pt).attr("width", PR-PL).attr("height", PH);
  const pg = g.append("g").attr("clip-path", `url(#pc${i})`);
  const line = days => d3.line().x((d,j)=>x(days[j])).y(d=>y(d));
  const draw = (days, v, s) => pg.append("path").attr("d", line(days)(v)).attr("fill","none")
    .attr("stroke", s.c).attr("stroke-opacity", s.o).attr("stroke-width", s.w).attr("stroke-linejoin","round");
  p.aYears.forEach(v => draw(yearDays, v, AERO_YEAR));
  if (p.gap) draw(p.gap.days, p.gap.values, {c:"#b8d9ff", o:0.55, w:1});
  p.eYears.forEach(v => draw(yearDays, v, EMAC_YEAR));
  p.eYearsB.forEach(v => draw(yearDaysB, v, EMAC_YEAR));
  draw(medianDays, p.aMed, {c:"#0080ff", o:1, w:2});
  draw(medianDays, p.eMed, {c:"#ff00ff", o:1, w:2});

  // axes
  g.append("g").attr("transform", `translate(${PL},0)`)
    .call(d3.axisLeft(y).tickValues(aodTicks).tickSize(9).tickPadding(9).tickFormat(i===1 ? "" : fmt)).call(s=>axStyle(s,"16.3px"));
  g.append("g").attr("transform", `translate(${PR},0)`)
    .call(d3.axisRight(y).tickValues(aodTicks).tickSize(10).tickPadding(8).tickFormat(i===1 ? fmt : "")).call(s=>axStyle(s,"16.3px"));
  if (i === 0) g.append("g").attr("transform", `translate(0,${st})`)
    .call(d3.axisTop(x).tickValues(dayTicks).tickSize(10).tickFormat("")).call(s=>axStyle(s,"16.3px"));
  if (i === 2) g.append("g").attr("transform", `translate(0,${pb})`)
    .call(d3.axisBottom(x).tickValues(dayTicks).tickSize(10).tickPadding(9).tickFormat(d3.format("d"))).call(s=>axStyle(s,"16.3px"));

  // strip
  g.append("rect").attr("x", PL).attr("y", st).attr("width", PR-PL).attr("height", STRIP)
    .attr("fill","#ffe5cc").attr("stroke", BLK).attr("stroke-width",1.2);
  g.append("text").attr("x",(PL+PR)/2).attr("y", st+STRIP/2).attr("dy","0.36em").attr("text-anchor","middle")
    .style("font-size","19px").text(p.site);
  g.append("rect").attr("x", PL).attr("y", pt).attr("width", PR-PL).attr("height", PH)
    .attr("fill","none").attr("stroke", BLK).attr("stroke-width",1.2);
});

svg.append("text").attr("x",(PL+PR)/2).attr("y",801.7).attr("dy","0.35em").attr("text-anchor","middle")
  .style("font-size","19px").text("Day of year");
svg.append("text").attr("transform","translate(482,432.5) rotate(-90)").attr("dy","0.35em").attr("text-anchor","middle")
  .style("font-size","19px").text("550 nm AOD");

// ---------- Legend ----------
const legendItems = [
  {label:"AERONET (2009 to 2018)", color:"#d4e9ff", col:0, row:0},
  {label:"AERONET (median)", color:"#0080ff", col:0, row:1},
  {label:"EMAC (20 years)", color:"#ffd4ff", col:1, row:0},
  {label:"EMAC (median)", color:"#ff00ff", col:1, row:1}
];
const legCols = [590.5, 948];
const legRows = [31, 50.5];
const lg = svg.append("g");
legendItems.forEach(it => {
  const lx = legCols[it.col], ly = legRows[it.row];
  lg.append("line").attr("x1", lx).attr("x2", lx+57).attr("y1", ly).attr("y2", ly)
    .attr("stroke", it.color).attr("stroke-width", 3);
  lg.append("text").attr("x", lx+77.5).attr("y", ly+0.8).attr("dy","0.35em").style("font-size","19px").text(it.label);
});
</script></body></html>
